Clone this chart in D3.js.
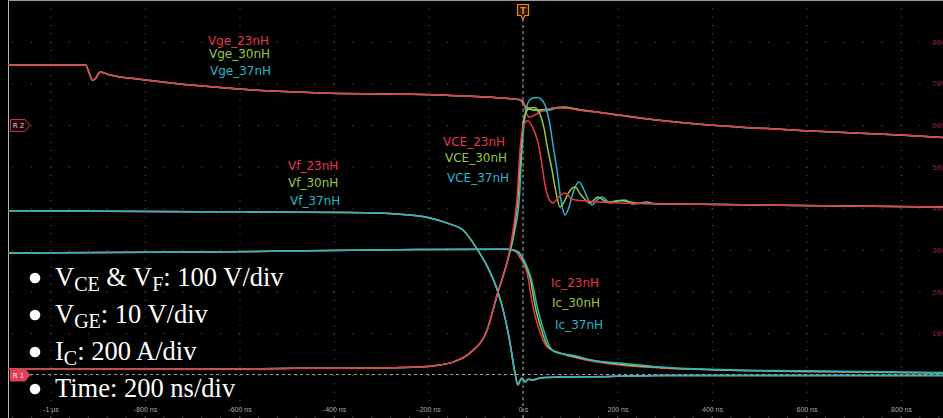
<!DOCTYPE html>
<html><head><meta charset="utf-8">
<script src="https://cdn.jsdelivr.net/npm/d3@7"></script>
<style>html,body{margin:0;padding:0;background:#000;overflow:hidden}</style>
</head><body><svg id="c" width="943" height="418"></svg>
<script>
// ---------- axis ticks ----------
const timeTicks = [-1000,-800,-600,-400,-200,0,200,400,600,800];
const timeTickLabels = ["-1 µs","-800 ns","-600 ns","-400 ns","-200 ns","0 s","200 ns","400 ns","600 ns","800 ns"];
const levelTicks = [100,200,300,400,500,600,700,800];
const seriesNames = ["23nH","30nH","37nH"];

// ---------- series: [time ns, level (screen units, 100/div)] ----------
const vge23 = [[-1090,744],[-925,744],[-921,734],[-916,718],[-912,708],[-906,710],[-895,727],[-874,720],[-811,710],[-684,694],[-542,682],[-430,677],[-260,674],[-154,671],[-49,665],[-6,660],[0,658],[6.3,631],[12.7,619],[21.2,622],[36,631],[50.8,638],[72,641],[88.9,641],[114.3,636],[163,630],[269,614],[375,602],[586,587],[798,576],[889,570]];
const vge30 = [[-1090,744],[-925,744],[-921,734],[-916,718],[-912,708],[-906,710],[-895,727],[-874,720],[-811,710],[-684,694],[-542,682],[-430,677],[-260,674],[-154,671],[-49,665],[-6,660],[4.2,646],[14.8,638],[29.6,636],[50.8,638],[72,642],[84.7,643],[114.3,638],[163,630],[269,614],[375,602],[586,587],[798,576],[889,570]];
const vge37 = [[-1090,744],[-925,744],[-921,734],[-916,718],[-912,708],[-906,710],[-895,727],[-874,720],[-811,710],[-684,694],[-542,682],[-430,677],[-260,674],[-154,671],[-49,665],[-6,661],[-2.1,657],[8.5,641],[21.2,636],[42.3,634],[57.1,636],[74.1,641],[93.1,641],[120.6,636],[163,630],[269,614],[375,602],[586,587],[798,576],[889,570]];

const vce23 = [[-1090,14],[-684,14],[-472,16],[-303,17],[-218,19],[-176,24],[-148,31],[-112,53],[-76,108],[-53,199],[-34,269],[-21,348],[-13,420],[-6.3,540],[-2.1,583],[4.2,605],[10.6,610],[16.9,602],[25.4,581],[33.9,547],[40.2,504],[46.6,456],[55,422],[63.5,413],[74.1,425],[88.9,437],[103.7,422],[127,418],[205,413],[375,410],[586,407],[889,403]];
const vce30 = [[-1090,14],[-684,14],[-472,16],[-303,17],[-218,19],[-176,24],[-148,31],[-112,53],[-76,108],[-53,199],[-34,269],[-19,348],[-11,420],[-4.2,540],[0,600],[6.3,631],[14.8,641],[23.3,642],[31.7,636],[38.1,619],[44.4,593],[50.8,552],[57.1,516],[61.4,492],[67.7,451],[72,427],[78.3,403],[86.8,415],[97.4,439],[110.1,451],[122.8,432],[141.8,413],[158.7,427],[177.8,415],[205.3,418],[247.6,412],[375,410],[586,407],[889,403]];
const vce37 = [[-1090,14],[-684,14],[-472,16],[-303,17],[-218,19],[-176,24],[-148,31],[-112,53],[-76,108],[-53,199],[-34,269],[-17,348],[-8,420],[-2.1,540],[2.1,600],[6.3,636],[12.7,658],[21.2,665],[29.6,666],[38.1,662],[46.6,648],[52.9,624],[57.1,600],[63.5,552],[72,492],[80.4,420],[88.9,384],[97.4,403],[105.8,437],[118.5,463],[129.1,444],[137.6,422],[146,408],[156.6,420],[167.2,427],[184.1,413],[198.9,418],[215.9,420],[232.8,410],[262.4,415],[283.6,410],[375,410],[586,407],[889,403]];

const vf23 = [[-1090,394],[-684,392],[-366,390],[-260,386],[-197,377],[-154,362],[-127,348],[-97,302],[-74,257],[-53,199],[-38,137],[-27.5,77],[-17,5],[-10.6,-22],[-6.3,-13],[-2.1,-7],[4.2,-15],[10.6,-10],[21.2,-11],[36,-7],[78,-5],[163,-4],[290,-1],[889,-1]];
const vf30 = [[-1090,394],[-684,392],[-366,390],[-260,386],[-197,377],[-154,362],[-127,348],[-97,302],[-74,257],[-53,199],[-38,137],[-27.5,77],[-17,5],[-10.6,-24],[-6.3,-14],[-2.1,-7],[4.2,-17],[10.6,-10],[21.2,-12],[36,-7],[78,-5],[163,-4],[290,-1],[889,-1]];
const vf37 = [[-1090,394],[-684,392],[-366,390],[-260,386],[-197,377],[-154,362],[-127,348],[-97,302],[-74,257],[-53,199],[-38,137],[-27.5,77],[-17,5],[-10.6,-24],[-6.3,-14],[-2.1,-8],[4.2,-17],[10.6,-11],[21.2,-12],[36,-8],[78,-5],[163,-4],[290,-1],[889,-1]];

const ic23 = [[-1090,293],[-684,295],[-218,301],[-38,302],[-23,300],[-15,295],[-6.3,281],[8.5,245],[21.2,163],[29.6,125],[42.3,84],[50.8,67],[72,55],[114.3,41],[205,24],[290,17],[417,12],[586,8],[889,5]];
const ic30 = [[-1090,293],[-684,295],[-218,301],[-38,302],[-21,300],[-10.6,295],[0,276],[14.8,233],[27.5,156],[38,113],[50.8,72],[61.4,60],[78.3,53],[120.6,41],[205,26],[290,18],[417,12],[586,9],[889,5]];
const ic37 = [[-1090,293],[-684,295],[-218,301],[-38,302],[-19,300],[-8.5,295],[4.2,271],[17,233],[31.7,156],[42.3,113],[57.1,67],[67.7,55],[88.9,50],[110,46],[120.6,43],[142,36],[205,29],[290,19],[417,13],[586,10],[889,6]];

const colors = {"23nH":"#e8364f","30nH":"#94c840","37nH":"#25b6c9"};

// ---------- drawing ----------
const W = 943, H = 418;
const svg = d3.select("#c");
const x = d3.scaleLinear().domain([-1000, 800]).range([50.5, 901]);
const y = d3.scaleLinear().domain([0, 800]).range([375, 375 - 8*41.667]);
const divX = x(200) - x(0), divY = y(0) - y(100);

svg.append("rect").attr("width", W).attr("height", H).attr("fill", "#000");

svg.append("defs").append("clipPath").attr("id","plot")
  .append("rect").attr("x", 8).attr("y", 0).attr("width", W - 8).attr("height", H);

const grid = svg.append("g").attr("clip-path","url(#plot)");
// vertical dotted graticule
grid.selectAll("line.v").data(timeTicks).join("line")
  .attr("x1", d => x(d) + 0.5).attr("x2", d => x(d) + 0.5)
  .attr("y1", 0).attr("y2", H)
  .attr("stroke", "#5e5e5e").attr("stroke-width", 1)
  .attr("stroke-dasharray", `1 ${divY/5 - 1}`);
// horizontal dotted graticule
const rowLevels = d3.range(-100, 901, 100);
const firstDot = x(0) - Math.floor((x(0) - 8) / (divX/5)) * (divX/5);
grid.selectAll("line.h").data(rowLevels).join("line")
  .attr("x1", firstDot - 0.5).attr("x2", W)
  .attr("y1", d => y(d) + 0.5).attr("y2", d => y(d) + 0.5)
  .attr("stroke", "#5e5e5e").attr("stroke-width", 1)
  .attr("stroke-dasharray", `1 ${divX/5 - 1}`);

// borders
svg.append("line").attr("x1", 8.5).attr("x2", 8.5).attr("y1", 0).attr("y2", H)
  .attr("stroke", "#b8b8b8").attr("stroke-width", 1);
svg.append("line").attr("x1", 8).attr("x2", W).attr("y1", 0.5).attr("y2", 0.5)
  .attr("stroke", "#9a9a9a").attr("stroke-width", 1);

// trigger & reference dashed lines
svg.append("line").attr("x1", x(0)).attr("x2", x(0)).attr("y1", 19).attr("y2", H)
  .attr("stroke", "#a8a8a8").attr("stroke-width", 1).attr("stroke-dasharray", "3 3");
svg.append("line").attr("x1", 30).attr("x2", W).attr("y1", y(0) - 0.5).attr("y2", y(0) - 0.5)
  .attr("stroke", "#a0a0a0").attr("stroke-width", 1).attr("stroke-dasharray", "3 3");

// right axis labels
svg.append("g").selectAll("text").data(levelTicks).join("text")
  .attr("x", 932).attr("y", d => y(d) + 3)
  .attr("font-family", "Liberation Sans, Arial, sans-serif").attr("font-size", 8)
  .attr("fill", "#8a2438").text(d => d);

// bottom time axis
const xAxis = d3.axisBottom(x).tickValues(timeTicks)
  .tickFormat((d, i) => timeTickLabels[i]).tickSize(0).tickPadding(0);
const ax = svg.append("g").attr("transform", "translate(0,407)").call(xAxis);
ax.select(".domain").remove();
ax.selectAll("text").attr("font-family", "Liberation Sans, Arial, sans-serif")
  .attr("font-size", 7).attr("fill", "#a8a8a8");

// traces
const line = d3.line().x(d => x(d[0])).y(d => y(d[1])).curve(d3.curveMonotoneX);
const traces = svg.append("g").attr("clip-path","url(#plot)")
  .attr("fill", "none").attr("stroke-width", 1.5).attr("stroke-linejoin","round");
const drawOrder = [
  [ic23,"23nH"],[ic30,"30nH"],[ic37,"37nH"],
  [vf23,"23nH"],[vf30,"30nH"],[vf37,"37nH"],
  [vge37,"37nH"],[vge30,"30nH"],[vge23,"23nH"],
  [vce37,"37nH"],[vce30,"30nH"],[vce23,"23nH"]
];
drawOrder.forEach(([data, name]) => {
  traces.append("path").datum(data).attr("d", line).attr("stroke", colors[name]);
});

// trace labels
const labelFont = "DejaVu Sans, sans-serif";
function labelSet(prefix, pos) {
  seriesNames.forEach((n, i) => {
    svg.append("text").attr("x", pos[i][0]).attr("y", pos[i][1])
      .attr("font-family", labelFont).attr("font-size", 12)
      .attr("fill", colors[n]).text(prefix + n);
  });
}
labelSet("Vge_", [[208,45],[209,58],[210,74.5]]);
labelSet("VCE_", [[443,145.5],[445,161.5],[447,181.5]]);
labelSet("Vf_",  [[288,169.5],[288,186.5],[290,204.5]]);
labelSet("Ic_",  [[551,286.5],[552,306.5],[555,328.5]]);

// trigger marker
const tg = svg.append("g");
tg.append("path").attr("d", `M${x(0)-5.5},4.5 H${x(0)+5.5} V15.5 H${x(0)+2} L${x(0)},19 L${x(0)-2},15.5 H${x(0)-5.5} Z`)
  .attr("fill", "#2a1600").attr("stroke", "#e88a1e").attr("stroke-width", 1.2);
tg.append("text").attr("x", x(0)).attr("y", 13.5).attr("text-anchor", "middle")
  .attr("font-family", "DejaVu Sans, sans-serif").attr("font-size", 8).attr("font-weight", "bold")
  .attr("fill", "#e88a1e").text("T");

// reference markers
function refMarker(yc, label, filled) {
  const g = svg.append("g");
  g.append("path").attr("d", `M10.5,${yc-6} H25 L30,${yc} L25,${yc+6} H10.5 Z`)
    .attr("fill", filled ? "#e0405a" : "#1a0408")
    .attr("stroke", filled ? "#e0405a" : "#c8304a").attr("stroke-width", 1);
  g.append("text").attr("x", 18.5).attr("y", yc + 2.5).attr("text-anchor", "middle")
    .attr("font-family", "DejaVu Sans, sans-serif").attr("font-size", 7)
    .attr("fill", filled ? "#ffe8ec" : "#e8c8d0").text(label);
}
refMarker(y(600) + 0.5, "R 2", false);
refMarker(y(0), "R 1", true);

// bullet notes
const notes = [
  [["V",0],["CE",1],[" & V",0],["F",1],[": 100 V/div",0]],
  [["V",0],["GE",1],[": 10 V/div",0]],
  [["I",0],["C",1],[": 200 A/div",0]],
  [["Time: 200 ns/div",0]]
];
const noteBase = [286, 323, 360, 397];
notes.forEach((parts, i) => {
  svg.append("circle").attr("cx", 35).attr("cy", noteBase[i] - 8).attr("r", 5.3).attr("fill", "#fff");
  const t = svg.append("text").attr("x", 55).attr("y", noteBase[i])
    .attr("font-family", "Liberation Serif, Times New Roman, serif").attr("font-size", 26.5).attr("fill", "#fff");
  let prevSub = 0;
  parts.forEach(([s, sub]) => {
    const dy = sub - prevSub;
    t.append("tspan").attr("font-size", sub ? 20 : 26.5)
      .attr("dy", dy === 1 ? 5 : (dy === -1 ? -5 : 0)).text(s);
    prevSub = sub;
  });
});
</script></body></html>
